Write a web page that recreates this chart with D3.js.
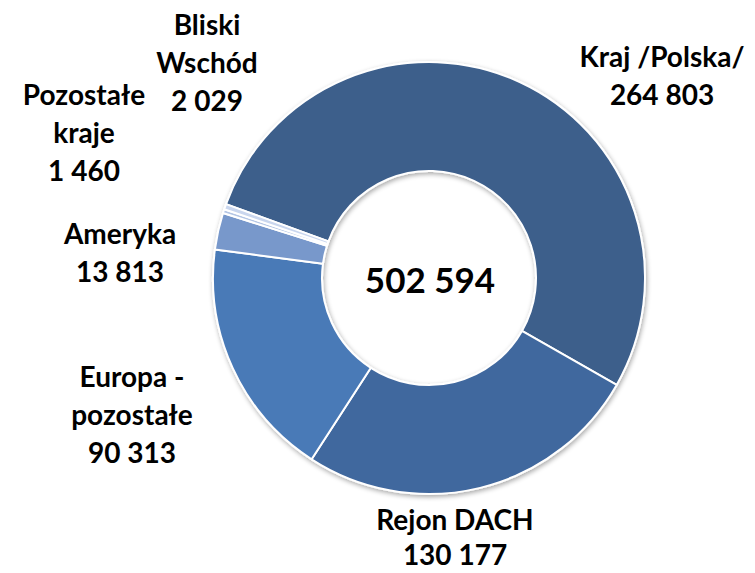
<!DOCTYPE html>
<html><head><meta charset="utf-8">
<script src="https://cdn.jsdelivr.net/npm/d3@7"></script>
<style>
html,body{margin:0;padding:0;background:#fff;}
svg text{font-family:Lato,"Open Sans",sans-serif;font-weight:700;fill:#000;}
</style></head>
<body><svg id="c" width="755" height="573"></svg>
<script>
const categories = ["Kraj /Polska/", "Rejon DACH", "Europa - pozostałe", "Ameryka", "Pozostałe kraje", "Bliski Wschód"];
const values = [264803, 130177, 90313, 13813, 1460, 2029];
const valueLabels = ["264 803", "130 177", "90 313", "13 813", "1 460", "2 029"];
const labelLines = [["Kraj /Polska/"], ["Rejon DACH"], ["Europa -", "pozostałe"], ["Ameryka"], ["Pozostałe", "kraje"], ["Bliski", "Wschód"]];
const colors = ["#3C5E8B", "#41689E", "#4A7AB7", "#7898CB", "#B3C5E4", "#C9D6EE"];
const totalLabel = "502 594";

const svg = d3.select("#c");
const cx = 429, cy = 278, R = 216, r = 107;

const defs = svg.append("defs");
const f = defs.append("filter").attr("id","sh").attr("x","-10%").attr("y","-10%").attr("width","120%").attr("height","120%");
f.append("feGaussianBlur").attr("in","SourceAlpha").attr("stdDeviation",2.5).attr("result","b");
f.append("feOffset").attr("in","b").attr("dx",1).attr("dy",2).attr("result","o");
f.append("feComponentTransfer").attr("in","o").attr("result","o2").append("feFuncA").attr("type","linear").attr("slope",0.35);
const m = f.append("feMerge"); m.append("feMergeNode").attr("in","o2"); m.append("feMergeNode").attr("in","SourceGraphic");

const startA = -70 * Math.PI / 180;
const pie = d3.pie().sort(null).value(d => d).startAngle(startA).endAngle(startA + 2 * Math.PI);
const arcs = pie(values);
const arc = d3.arc().innerRadius(r).outerRadius(R);

const g = svg.append("g").attr("transform", `translate(${cx},${cy})`).attr("filter","url(#sh)");
g.selectAll("path").data(arcs).join("path")
  .attr("d", arc)
  .attr("fill", (d, i) => colors[i])
  .attr("stroke", "#fff").attr("stroke-width", 2).attr("stroke-linejoin","round");

// label positions (center x, first baseline)
const labelPos = [[662, 67], [455, 530], [132, 387], [120, 244], [84, 105], [207, 35]];
const lh = 37;
labelLines.forEach((lines, i) => {
  const t = svg.append("text").attr("text-anchor", "middle").attr("font-size", 28);
  const all = lines.concat([valueLabels[i]]);
  all.forEach((s, j) => {
    t.append("tspan").attr("x", labelPos[i][0]).attr("y", labelPos[i][1] + j * (i === 1 ? 35 : 38)).text(s);
  });
});

svg.append("text").attr("x", cx + 1).attr("y", 293).attr("text-anchor", "middle")
  .attr("font-size", 35).text(totalLabel);
</script></body></html>
